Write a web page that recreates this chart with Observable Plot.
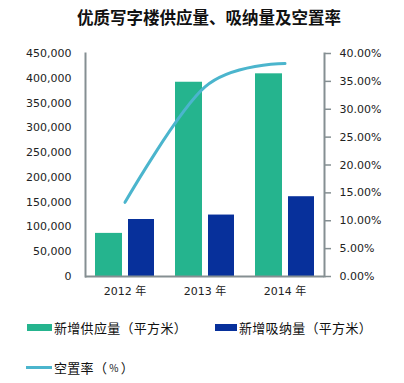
<!DOCTYPE html>
<html><head><meta charset="utf-8">
<script src="https://cdn.jsdelivr.net/npm/d3@7"></script>
<script src="https://cdn.jsdelivr.net/npm/@observablehq/plot@0.6"></script>
<style>
body{margin:0;background:#fff;font-family:"Noto Sans CJK SC","DejaVu Sans",sans-serif;width:404px;height:383px;overflow:hidden;}
#title{height:34px;line-height:34px;text-align:center;font-size:16.5px;font-weight:bold;color:#111;padding-left:14px;box-sizing:border-box;}
#chart svg{display:block;}
#legend{position:relative;height:77px;font-size:13px;color:#111;}
.item{position:absolute;display:flex;align-items:center;height:20px;white-space:nowrap;letter-spacing:0.3px;}
.sw{display:inline-block;width:25px;height:7px;margin-right:2px;}
.ln{display:inline-block;width:26px;height:3px;margin-right:2px;}
.pct{font-size:10px;padding:0 2px;}
</style></head><body>
<div id="title">优质写字楼供应量、吸纳量及空置率</div>
<div id="chart"></div>
<div id="legend">
  <div class="item" style="left:27px;top:11px"><span class="sw" style="background:#25b48e"></span>新增供应量（平方米）</div>
  <div class="item" style="left:215px;top:11px"><span class="sw" style="background:#07309b;width:22px"></span>新增吸纳量（平方米）</div>
  <div class="item" style="left:26px;top:51px"><span class="ln" style="background:#4bb5cd"></span>空置率（<span class="pct">%</span>）</div>
</div>
<script>
const years = ["2012 年", "2013 年", "2014 年"];
const supply = [87000, 392000, 409000];
const absorption = [115000, 124000, 161000];
const vacancy = [13.3, 34.0, 38.2];
const leftTicks = [0, 50000, 100000, 150000, 200000, 250000, 300000, 350000, 400000, 450000];
const rightTicks = [0, 5, 10, 15, 20, 25, 30, 35, 40];

const leftMax = 450000, rightMax = 40;
const k = leftMax / rightMax;
const gray = "#858f92";
const data = years.map((year, i) => ({year, supply: supply[i], absorption: absorption[i], vacancy: vacancy[i]}));

const chart = Plot.plot({
  width: 404, height: 272,
  marginLeft: 85, marginRight: 80, marginTop: 19, marginBottom: 30,
  style: {fontFamily: "'DejaVu Sans','Noto Sans CJK SC',sans-serif", fontSize: "11px", color: "#222", background: "#fff"},
  x: {domain: years, paddingInner: 0.2625, paddingOuter: 0.125, label: null, axis: null},
  y: {domain: [0, leftMax], label: null, axis: null},
  marks: [
    Plot.barY(data, {x: "year", y: "supply", fill: "#25b48e", insetRight: 32}),
    Plot.barY(data, {x: "year", y: "absorption", fill: "#07309b", insetLeft: 33}),
    Plot.axisY(leftTicks, {anchor: "left", tickSize: 0, tickPadding: 14, tickFormat: d3.format(","), label: null, fill: "#222"}),
    Plot.axisY(rightTicks.map(d => d * k), {anchor: "right", tickSize: 6, tickPadding: 9, stroke: gray, strokeWidth: 1.5, fill: "#222", tickFormat: d => (d / k).toFixed(2) + "%", label: null}),
    Plot.axisX({anchor: "bottom", tickSize: 0, tickPadding: 11, label: null, fill: "#222"}),
    Plot.frame({anchor: "left", stroke: gray, strokeWidth: 2}),
    Plot.frame({anchor: "right", stroke: gray, strokeWidth: 2}),
    Plot.ruleY([0], {stroke: gray, strokeWidth: 2}),
    Plot.line(data, {x: "year", y: d => d.vacancy * k, stroke: "#4bb5cd", strokeWidth: 3, curve: "cardinal", tension: 0})
  ]
});
document.getElementById("chart").appendChild(chart);
</script>
</body></html>
